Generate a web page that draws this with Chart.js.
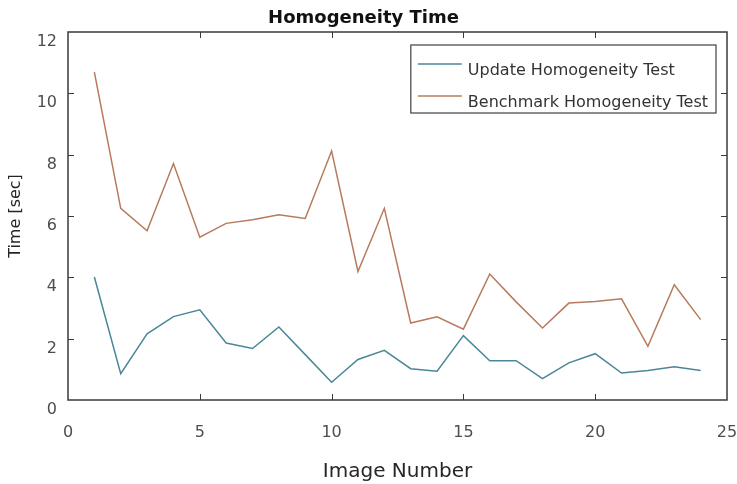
<!DOCTYPE html>
<html>
<head>
<meta charset="utf-8">
<title>Homogeneity Time</title>
<script src="https://cdn.jsdelivr.net/npm/chart.js@4.4.1/dist/chart.umd.min.js"></script>
<style>
  html, body { margin: 0; padding: 0; background: #ffffff; }
  #chart { display: block; }
</style>
</head>
<body>
<canvas id="chart" width="737" height="484"></canvas>
<script>
// Timing per image for both homogeneity tests (seconds)
const imageNumbers = [1, 2, 3, 4, 5, 6, 7, 8, 9, 10, 11, 12, 13, 14, 15, 16, 17, 18, 19, 20, 21, 22, 23, 24];
const updateTimes = [4.01, 0.86, 2.16, 2.72, 2.94, 1.86, 1.68, 2.38, 1.48, 0.58, 1.32, 1.62,
                     1.02, 0.94, 2.10, 1.28, 1.28, 0.70, 1.21, 1.51, 0.88, 0.96, 1.08, 0.96];
const benchmarkTimes = [10.69, 6.25, 5.52, 7.71, 5.31, 5.76, 5.88, 6.04, 5.92, 8.12, 4.19, 6.25,
                        2.51, 2.71, 2.31, 4.11, 3.20, 2.35, 3.16, 3.21, 3.30, 1.75, 3.76, 2.62];
const seriesNames = ['Update Homogeneity Test', 'Benchmark Homogeneity Test'];
const xTicks = [0, 5, 10, 15, 20, 25];
const yTicks = [0, 2, 4, 6, 8, 10, 12];

const FONT = 'DejaVu Sans';
const AXIS_COLOR = '#3a3a3a';

function toPoints(values) {
  return values.map((v, i) => ({ x: imageNumbers[i], y: v }));
}

// Keep the plot box at a fixed size regardless of label overhang
function noOverhang(scale) {
  scale.paddingLeft = 0;
  scale.paddingRight = 0;
  scale.paddingTop = 0;
  scale.paddingBottom = 0;
}

// Boxed axes with inward tick marks on all four sides, plus an inset legend
const frameAndLegend = {
  id: 'frameAndLegend',
  afterDatasetsDraw(chart) {
    const { ctx, chartArea: a, scales } = chart;
    const xs = scales.x, ys = scales.y;
    ctx.save();

    ctx.strokeStyle = AXIS_COLOR;
    ctx.lineWidth = 1.5;
    ctx.strokeRect(a.left, a.top, a.right - a.left, a.bottom - a.top);

    ctx.lineWidth = 1;
    ctx.beginPath();
    const tickLen = 6;
    xTicks.forEach(v => {
      const px = Math.round(xs.getPixelForValue(v)) + 0.5;
      if (px <= a.left + 1 || px >= a.right - 1) return;
      ctx.moveTo(px, a.bottom); ctx.lineTo(px, a.bottom - tickLen);
      ctx.moveTo(px, a.top); ctx.lineTo(px, a.top + tickLen);
    });
    yTicks.forEach(v => {
      const py = Math.round(ys.getPixelForValue(v)) + 0.5;
      if (py <= a.top + 1 || py >= a.bottom - 1) return;
      ctx.moveTo(a.left, py); ctx.lineTo(a.left + tickLen, py);
      ctx.moveTo(a.right, py); ctx.lineTo(a.right - tickLen, py);
    });
    ctx.stroke();

    // Legend box in the upper right corner of the plot
    ctx.font = '16px "' + FONT + '"';
    const sets = chart.data.datasets;
    let maxW = 0;
    sets.forEach(d => { maxW = Math.max(maxW, ctx.measureText(d.label).width); });
    const sampleLeft = 7, sampleLen = 44, textLeft = 57;
    const boxW = textLeft + maxW + 8;
    const boxH = 68;
    const boxRight = a.right - 11;
    const boxLeft = boxRight - boxW;
    const boxTop = a.top + 13;
    ctx.fillStyle = '#ffffff';
    ctx.fillRect(boxLeft, boxTop, boxW, boxH);
    ctx.strokeStyle = '#404040';
    ctx.lineWidth = 1.2;
    ctx.strokeRect(boxLeft, boxTop, boxW, boxH);

    ctx.textAlign = 'left';
    ctx.textBaseline = 'middle';
    sets.forEach((d, i) => {
      const rowY = boxTop + 26 + i * 32;
      ctx.strokeStyle = d.borderColor;
      ctx.lineWidth = 1.5;
      ctx.beginPath();
      ctx.moveTo(boxLeft + sampleLeft, rowY - 7);
      ctx.lineTo(boxLeft + sampleLeft + sampleLen, rowY - 7);
      ctx.stroke();
      ctx.fillStyle = '#333333';
      ctx.fillText(d.label, boxLeft + textLeft, rowY);
    });

    ctx.restore();
  }
};

new Chart(document.getElementById('chart'), {
  type: 'line',
  data: {
    datasets: [
      {
        label: seriesNames[0],
        data: toPoints(updateTimes),
        borderColor: '#4a8797',
        borderWidth: 1.5,
        pointRadius: 0,
        tension: 0,
        fill: false
      },
      {
        label: seriesNames[1],
        data: toPoints(benchmarkTimes),
        borderColor: '#b77b5c',
        borderWidth: 1.5,
        pointRadius: 0,
        tension: 0,
        fill: false
      }
    ]
  },
  options: {
    responsive: false,
    animation: false,
    devicePixelRatio: 1,
    layout: { padding: { top: 0, right: 10, bottom: 0, left: 0 } },
    plugins: {
      legend: { display: false },
      tooltip: { enabled: false },
      title: {
        display: true,
        text: 'Homogeneity Time',
        color: '#111111',
        font: { family: FONT, size: 18, weight: 'bold' },
        padding: { top: 8, bottom: 2.4 }
      }
    },
    scales: {
      x: {
        type: 'linear',
        min: 0,
        max: 25,
        afterBuildTicks(scale) { scale.ticks = xTicks.map(v => ({ value: v })); },
        afterFit(scale) { scale.height = 84; noOverhang(scale); },
        grid: { display: false, drawTicks: false },
        border: { display: false },
        ticks: {
          autoSkip: false,
          padding: 23,
          color: '#4d4d4d',
          font: { family: FONT, size: 16 }
        },
        title: {
          display: true,
          text: 'Image Number',
          color: '#262626',
          font: { family: FONT, size: 20 },
          padding: { top: 0, bottom: 0 }
        }
      },
      y: {
        type: 'linear',
        min: 0,
        max: 12,
        afterBuildTicks(scale) { scale.ticks = yTicks.map(v => ({ value: v })); },
        afterFit(scale) { scale.width = 68; noOverhang(scale); },
        grid: { display: false, drawTicks: false },
        border: { display: false },
        ticks: {
          autoSkip: false,
          padding: 11,
          labelOffset: 10,
          color: '#4d4d4d',
          font: { family: FONT, size: 16 }
        },
        title: {
          display: true,
          text: 'Time [sec]',
          color: '#262626',
          font: { family: FONT, size: 16 },
          padding: { top: 6, bottom: 0 }
        }
      }
    }
  },
  plugins: [frameAndLegend]
});
</script>
</body>
</html>
